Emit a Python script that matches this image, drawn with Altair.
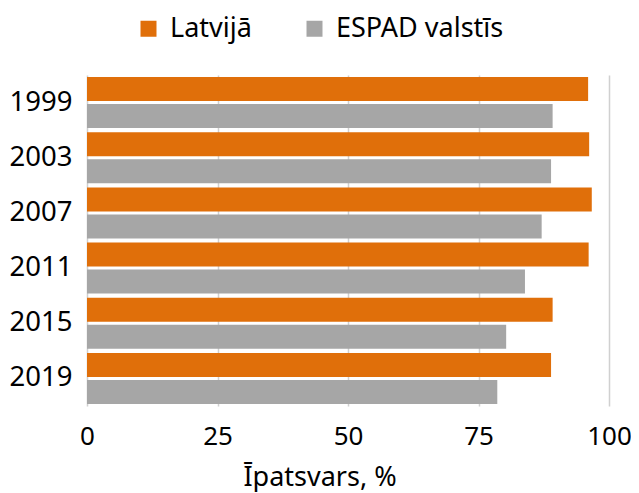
import altair as alt
import pandas as pd

years = ["1999", "2003", "2007", "2011", "2015", "2019"]
series = ["Latvijā", "ESPAD valstīs"]
latvija = [96.0, 96.2, 96.7, 96.1, 89.2, 88.9]
espad = [89.2, 88.9, 87.1, 83.9, 80.3, 78.6]
colors = ["#E06F0A", "#A6A6A6"]
x_ticks = [0, 25, 50, 75, 100]

rows = []
for i, y in enumerate(years):
    rows.append({"Gads": y, "Sērija": series[0], "Vērtība": latvija[i]})
    rows.append({"Gads": y, "Sērija": series[1], "Vērtība": espad[i]})
df = pd.DataFrame(rows)

FONT = "Noto Sans"
FS = 27

chart = alt.Chart(df).mark_bar(cornerRadius=0).encode(
    y=alt.Y("Gads:N", sort=years,
            scale=alt.Scale(paddingInner=0.076, paddingOuter=0.038),
            axis=alt.Axis(title=None, domain=False, ticks=False, labelPadding=15,
                          labelFontSize=27.5, labelFont=FONT, labelColor="#000000")),
    yOffset=alt.YOffset("Sērija:N", sort=series,
                        scale=alt.Scale(paddingInner=0.111, paddingOuter=0)),
    x=alt.X("Vērtība:Q",
            scale=alt.Scale(domain=[0, 100], nice=False),
            axis=alt.Axis(title="Īpatsvars, %", values=x_ticks, domain=False, ticks=False,
                          grid=True, gridColor="#d0d0d0", gridWidth=1.5,
                          labelFlush=False,
                          labelPadding=17, labelFontSize=26, labelFont=FONT,
                          labelColor="#000000",
                          titleFontSize=FS, titleFont=FONT, titleFontWeight="normal",
                          titleColor="#000000", titleX=232.5, titleY=79,
                          titleBaseline="alphabetic")),
    color=alt.Color("Sērija:N", sort=series,
                    scale=alt.Scale(domain=series, range=colors),
                    legend=alt.Legend(title=None, orient="none", direction="horizontal",
                                      legendX=48, legendY=-60,
                                      symbolType="square", symbolSize=256,
                                      symbolStrokeWidth=0, labelLimit=400,
                                      labelFontSize=FS, labelFont=FONT, labelColor="#000000",
                                      labelOffset=8, columnPadding=49)),
).properties(
    width=522,
    height=331,
    padding={"left": 79, "top": 67, "right": 22, "bottom": 86},
    autosize=alt.AutoSizeParams(type="none"),
).configure_view(stroke=None)

chart.save("out.html", embed_options={"renderer": "svg", "actions": False})
